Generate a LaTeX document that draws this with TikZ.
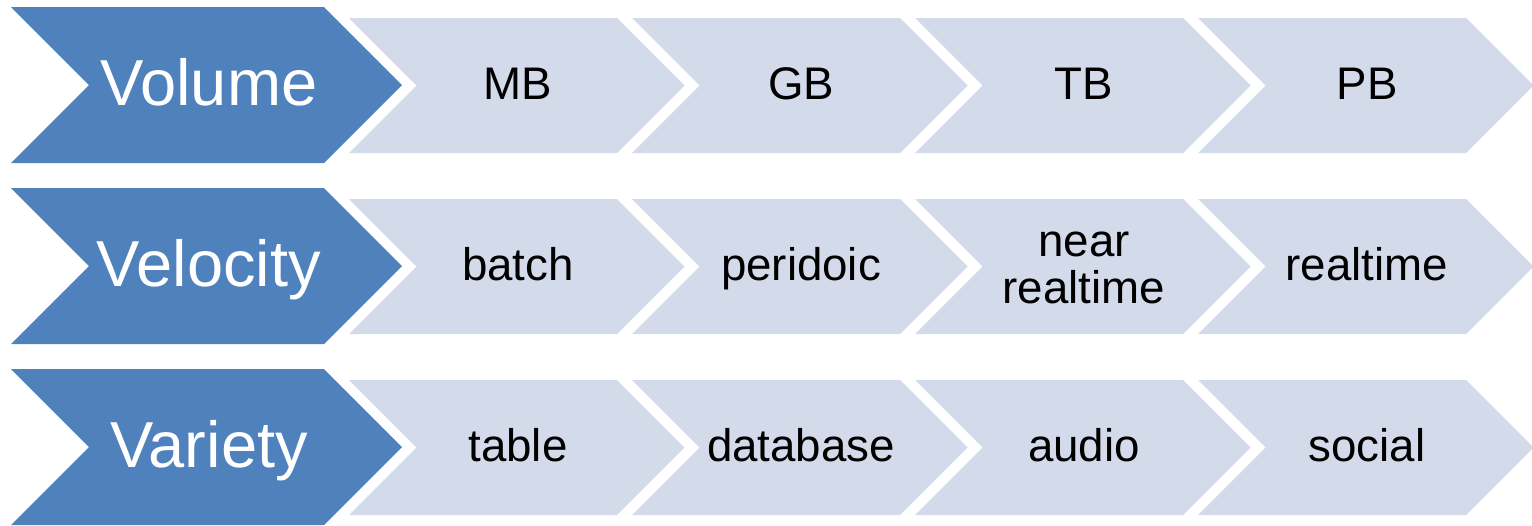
\documentclass[tikz,border=0pt]{standalone}
\usepackage{fontspec}
\setmainfont{Liberation Sans}
\usetikzlibrary{positioning,calc}
\definecolor{vvBlue}{RGB}{79,129,189}
\definecolor{vvPale}{RGB}{211,218,234}

% \chev{x0}{ytop}{straight length}{height}{style}
\newcommand\chev[5]{%
  \fill[#5] (#1,#2) -- ++(#3,0) -- ++(#4/2,#4/2) -- ++(-#4/2,#4/2)
    -- ++(-#3,0) -- ++(#4/2,-#4/2) -- cycle;}

\begin{document}
\begin{tikzpicture}[
  x=0.02cm,y=-0.02cm,
  big/.style={fill=vvBlue},
  pale/.style={fill=vvPale},
  bigtxt/.style={text=white,inner sep=0pt,
                 text height=26.5pt,text depth=2.7pt,
                 font=\fontsize{37}{40}\selectfont},
  smalltxt/.style={text=black,inner sep=0pt,align=center,
                   text height=18.6pt,text depth=2.5pt,
                   font=\fontsize{26}{26.4}\selectfont},
  twoline/.style={smalltxt,text height=45pt}
]
\useasboundingbox (0,0) rectangle (1532,525);

% --- Row 1: Volume
\chev{11}{7}{313}{156}{big}
\node[bigtxt] (vol) at (209,85) {Volume};
\chev{349}{18}{268}{135}{pale}
\node[smalltxt] (mb) at (518,85) {MB};
\chev{632}{18}{268}{135}{pale}
\node[smalltxt] (gb) at (801,85) {GB};
\chev{915}{18}{268}{135}{pale}
\node[smalltxt] (tb) at (1084,85) {TB};
\chev{1198}{18}{268}{135}{pale}
\node[smalltxt] (pb) at (1367,85) {PB};

% --- Row 2: Velocity
\chev{11}{188}{313}{156}{big}
\node[bigtxt] (vel) at (209,266) {Velocity};
\chev{349}{199}{268}{135}{pale}
\node[smalltxt] (batch) at (518,266) {batch};
\chev{632}{199}{268}{135}{pale}
\node[smalltxt] (peri) at (801,266) {peridoic};
\chev{915}{199}{268}{135}{pale}
\node[twoline] (near) at (1084,266) {near\\realtime};
\chev{1198}{199}{268}{135}{pale}
\node[smalltxt] (real) at (1367,266) {realtime};

% --- Row 3: Variety
\chev{11}{369}{313}{156}{big}
\node[bigtxt] (var) at (209,447) {Variety};
\chev{349}{380}{268}{135}{pale}
\node[smalltxt] (table) at (518,447) {table};
\chev{632}{380}{268}{135}{pale}
\node[smalltxt] (db) at (801,447) {database};
\chev{915}{380}{268}{135}{pale}
\node[smalltxt] (audio) at (1084,447) {audio};
\chev{1198}{380}{268}{135}{pale}
\node[smalltxt] (social) at (1367,447) {social};
\end{tikzpicture}
\end{document}
